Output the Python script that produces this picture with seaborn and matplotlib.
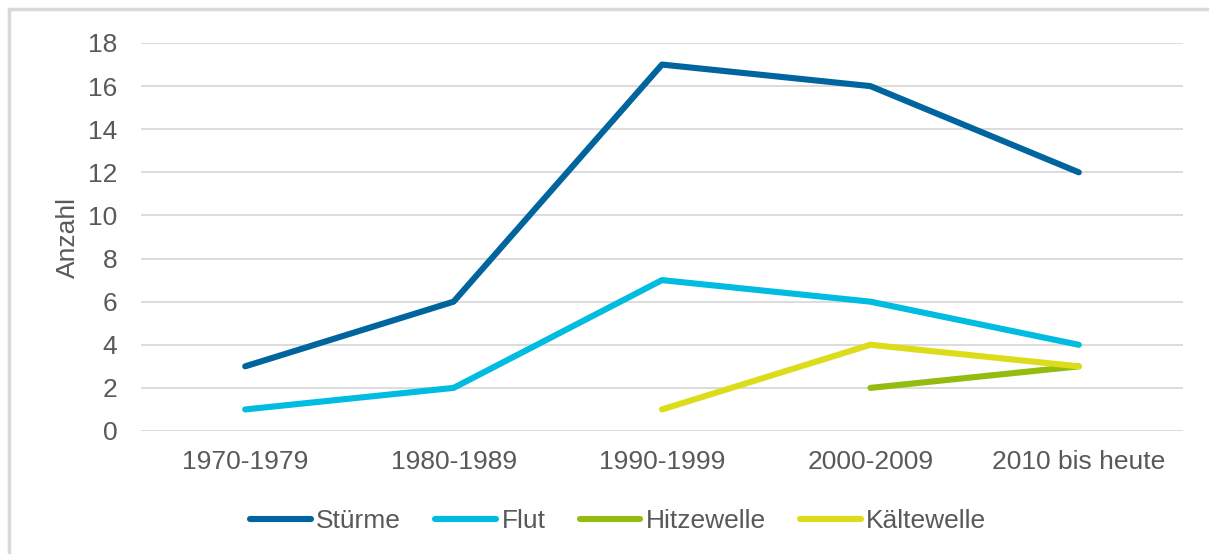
import seaborn as sns
import matplotlib.pyplot as plt
import pandas as pd
import numpy as np
from matplotlib.patches import Rectangle

periods = ["1970-1979", "1980-1989", "1990-1999", "2000-2009", "2010 bis heute"]
stuerme = [3, 6, 17, 16, 12]
flut = [1, 2, 7, 6, 4]
hitzewelle = [np.nan, np.nan, np.nan, 2, 3]
kaeltewelle = [np.nan, np.nan, 1, 4, 3]

series_names = ["Stürme", "Flut", "Hitzewelle", "Kältewelle"]
colors = ["#00659e", "#00bce0", "#93bc0f", "#dcdc1a"]

rows = []
for name, vals in zip(series_names, [stuerme, flut, hitzewelle, kaeltewelle]):
    for i, v in enumerate(vals):
        rows.append({"pos": i, "Zeitraum": periods[i], "Anzahl": v, "Art": name})
df = pd.DataFrame(rows).dropna()

sns.set_style("white")
plt.rcParams["font.family"] = ["Liberation Sans", "DejaVu Sans"]
text_color = "#595959"
fs = 19

fig = plt.figure(figsize=(12.09, 5.54), dpi=100)
ax = fig.add_axes([141 / 1209, 1 - 431 / 554, (1183 - 141) / 1209, (431 - 43) / 554])

sns.lineplot(data=df, x="pos", y="Anzahl", hue="Art", hue_order=series_names,
             palette=colors, linewidth=4.4, sort=False, ax=ax)
for line in ax.lines:
    line.set_solid_capstyle("round")

ax.set_xlim(-0.5, len(periods) - 0.5)
ax.set_ylim(0, 18)
ax.set_yticks(range(0, 19, 2))
ax.set_xticks(range(len(periods)))
ax.set_xticklabels(periods)
ax.tick_params(axis="both", length=0, labelsize=fs, colors=text_color)
ax.tick_params(axis="x", pad=14)
ax.tick_params(axis="y", pad=17)
ax.set_xlabel("")
ax.set_ylabel("Anzahl", fontsize=fs, color=text_color, labelpad=6)
ax.yaxis.grid(True, color="#d9d9d9", linewidth=1.3)
ax.set_axisbelow(True)
for s in ax.spines.values():
    s.set_visible(False)

handles, labels = ax.get_legend_handles_labels()
for h in handles:
    h.set_solid_capstyle("round")
leg = ax.legend(handles, labels, loc="center", bbox_to_anchor=(0.458, -0.232),
                ncol=4, frameon=False, fontsize=fs, handlelength=2.3,
                handletextpad=0.2, columnspacing=1.3)
for t in leg.get_texts():
    t.set_color(text_color)

fig.add_artist(Rectangle((8.5 / 1209, -0.1), 1.2, 1 - 9.5 / 554 + 0.1,
                         transform=fig.transFigure, fill=False,
                         edgecolor="#d9d9d9", linewidth=2.5))

fig.savefig("out.png", dpi=100)
